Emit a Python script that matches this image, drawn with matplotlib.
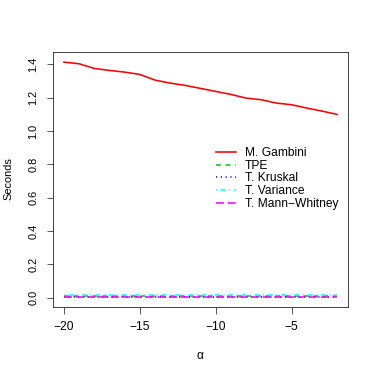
import matplotlib.pyplot as plt
import numpy as np

plt.rcParams['font.family'] = ['Liberation Sans', 'DejaVu Sans']

# Timing comparison across alpha values
alpha = np.arange(-20, -1)
gambini = [1.414, 1.404, 1.376, 1.364, 1.354, 1.340, 1.306, 1.288, 1.274, 1.256,
           1.238, 1.220, 1.198, 1.188, 1.168, 1.158, 1.138, 1.120, 1.100]
tpe = [0.010] * 19
kruskal = [0.006] * 19
variance = [0.013] * 19
mann_whitney = [0.002] * 19

labels = ['M. Gambini', 'TPE', 'T. Kruskal', 'T. Variance', 'T. Mann\u2212Whitney']
colors = ['#FF0000', '#00CD00', '#0000FF', '#00FFFF', '#FF00FF']
styles = ['-', (0, (3, 3)), (0, (0.7, 2.3)), (0, (0.7, 2.3, 3, 2.3)), (0, (5, 2.3))]
series = [gambini, tpe, kruskal, variance, mann_whitney]

W, H = 374, 373
fig = plt.figure(figsize=(W / 72, H / 72), dpi=72)
ax = fig.add_axes([53 / W, 1 - 307 / H, 295 / W, 255 / H])

for y, lab, c, ls in zip(series, labels, colors, styles):
    ax.plot(alpha, y, color=c, linestyle=ls, lw=1.6, label=lab)

ax.set_xlim(-20.72, -1.28)
ax.set_ylim(-0.0567, 1.4747)
ax.set_xticks([-20, -15, -10, -5])
ax.set_xticklabels(['\u221220', '\u221215', '\u221210', '\u22125'])
ax.set_yticks(np.arange(0, 1.41, 0.2))
ax.set_yticklabels([f'{v:.1f}' for v in np.arange(0, 1.41, 0.2)], rotation=90, va='center')
ax.tick_params(direction='out', length=6.5, width=0.8, color='#333333')
ax.tick_params(axis='x', labelsize=12, pad=8)
ax.tick_params(axis='y', labelsize=11, pad=8)
for s in ax.spines.values():
    s.set_color('#333333')
    s.set_linewidth(0.9)

fig.text(200 / W, 1 - 356 / H, '\u03b1', fontsize=12, ha='center', va='center')
fig.text(8.5 / W, 1 - 179 / H, 'Seconds', fontsize=11, ha='center', va='center', rotation=90)

ax.legend(loc='upper left', bbox_to_anchor=(0.553, 0.628), frameon=False, fontsize=12,
          handlelength=1.67, handletextpad=0.75, labelspacing=0.06, borderaxespad=0,
          borderpad=0, handleheight=0.6)

fig.savefig('out.png', dpi=72)
